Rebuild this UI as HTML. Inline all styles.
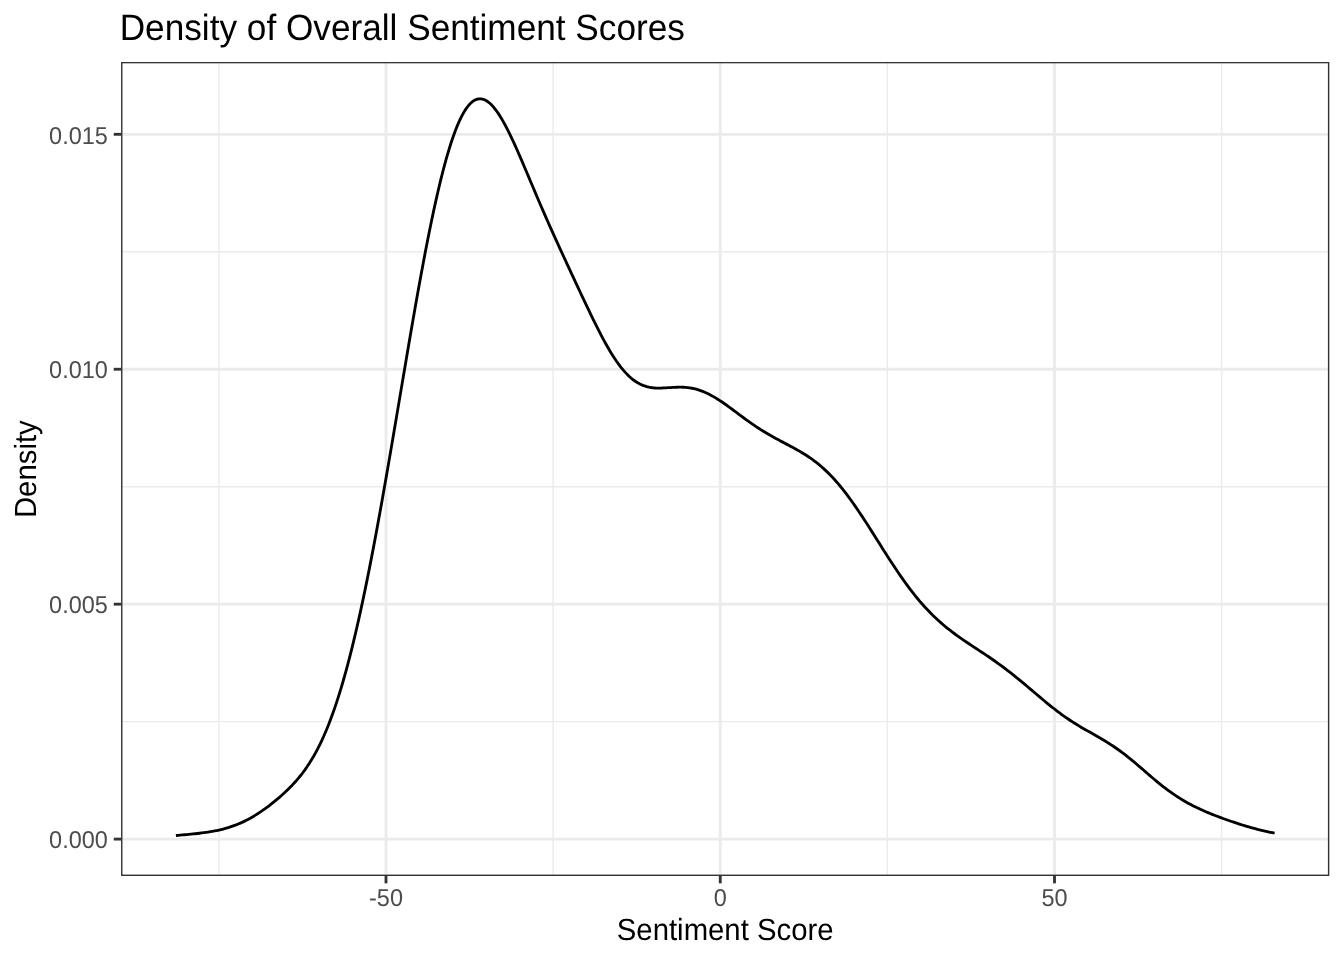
<!DOCTYPE html>
<html><head><meta charset="utf-8"><title>Density of Overall Sentiment Scores</title>
<style>
html,body{margin:0;padding:0;background:#fff;}
body{width:1344px;height:960px;overflow:hidden;}
svg{display:block;will-change:transform;}
text{font-family:"Liberation Sans",sans-serif;text-rendering:geometricPrecision;}
.ax{font-size:23.47px;fill:#4D4D4D;}
.ti{font-size:29.33px;fill:#000;}
.tt{font-size:35.2px;fill:#000;}
</style></head><body>
<svg width="1344" height="960" viewBox="0 0 1344 960">
<rect x="0" y="0" width="1344" height="960" fill="#FFFFFF"/>
<defs><clipPath id="pc"><rect x="121.05" y="61.9" width="1208.28" height="814.10"/></clipPath></defs>
<g clip-path="url(#pc)">
<rect x="121.05" y="61.9" width="1208.28" height="814.10" fill="#FFFFFF"/>
<line x1="218.88" y1="61.9" x2="218.88" y2="876.0" stroke="#EBEBEB" stroke-width="1.42"/>
<line x1="553.12" y1="61.9" x2="553.12" y2="876.0" stroke="#EBEBEB" stroke-width="1.42"/>
<line x1="887.38" y1="61.9" x2="887.38" y2="876.0" stroke="#EBEBEB" stroke-width="1.42"/>
<line x1="1221.62" y1="61.9" x2="1221.62" y2="876.0" stroke="#EBEBEB" stroke-width="1.42"/>
<line x1="121.05" y1="721.63" x2="1329.33" y2="721.63" stroke="#EBEBEB" stroke-width="1.42"/>
<line x1="121.05" y1="486.71" x2="1329.33" y2="486.71" stroke="#EBEBEB" stroke-width="1.42"/>
<line x1="121.05" y1="251.77" x2="1329.33" y2="251.77" stroke="#EBEBEB" stroke-width="1.42"/>
<line x1="386.00" y1="61.9" x2="386.00" y2="876.0" stroke="#EBEBEB" stroke-width="2.84"/>
<line x1="720.25" y1="61.9" x2="720.25" y2="876.0" stroke="#EBEBEB" stroke-width="2.84"/>
<line x1="1054.50" y1="61.9" x2="1054.50" y2="876.0" stroke="#EBEBEB" stroke-width="2.84"/>
<line x1="121.05" y1="839.10" x2="1329.33" y2="839.10" stroke="#EBEBEB" stroke-width="2.84"/>
<line x1="121.05" y1="604.17" x2="1329.33" y2="604.17" stroke="#EBEBEB" stroke-width="2.84"/>
<line x1="121.05" y1="369.24" x2="1329.33" y2="369.24" stroke="#EBEBEB" stroke-width="2.84"/>
<line x1="121.05" y1="134.31" x2="1329.33" y2="134.31" stroke="#EBEBEB" stroke-width="2.84"/>
<path d="M175.90,835.50 L178.05,835.32 L180.20,835.15 L182.35,834.96 L184.50,834.77 L186.65,834.58 L188.80,834.38 L190.95,834.17 L193.10,833.95 L195.25,833.72 L197.40,833.48 L199.55,833.23 L201.70,832.96 L203.85,832.68 L206.00,832.38 L208.15,832.06 L210.30,831.71 L212.45,831.34 L214.60,830.95 L216.75,830.52 L218.90,830.06 L221.05,829.57 L223.20,829.03 L225.35,828.46 L227.50,827.84 L229.65,827.18 L231.80,826.47 L233.95,825.71 L236.10,824.90 L238.25,824.03 L240.40,823.11 L242.55,822.14 L244.70,821.11 L246.85,820.02 L249.00,818.88 L251.15,817.68 L253.30,816.43 L255.45,815.13 L257.60,813.77 L259.75,812.37 L261.90,810.91 L264.05,809.41 L266.20,807.87 L268.35,806.27 L270.50,804.63 L272.65,802.95 L274.80,801.22 L276.95,799.45 L279.10,797.62 L281.25,795.74 L283.40,793.81 L285.55,791.81 L287.71,789.75 L289.86,787.61 L292.01,785.40 L294.16,783.09 L296.31,780.68 L298.46,778.16 L300.61,775.52 L302.76,772.75 L304.91,769.83 L307.06,766.76 L309.21,763.52 L311.36,760.09 L313.51,756.47 L315.66,752.64 L317.81,748.60 L319.96,744.32 L322.11,739.80 L324.26,735.03 L326.41,730.00 L328.56,724.69 L330.71,719.11 L332.86,713.25 L335.01,707.10 L337.16,700.65 L339.31,693.90 L341.46,686.85 L343.61,679.49 L345.76,671.84 L347.91,663.87 L350.06,655.61 L352.21,647.05 L354.36,638.19 L356.51,629.04 L358.66,619.60 L360.81,609.88 L362.96,599.89 L365.11,589.63 L367.26,579.12 L369.41,568.35 L371.56,557.36 L373.71,546.13 L375.86,534.69 L378.01,523.06 L380.16,511.23 L382.31,499.24 L384.46,487.09 L386.61,474.80 L388.76,462.38 L390.91,449.87 L393.06,437.26 L395.21,424.59 L397.36,411.87 L399.51,399.12 L401.66,386.37 L403.81,373.64 L405.96,360.94 L408.11,348.30 L410.26,335.74 L412.41,323.29 L414.56,310.97 L416.71,298.80 L418.86,286.80 L421.01,275.00 L423.16,263.43 L425.31,252.10 L427.46,241.03 L429.61,230.26 L431.76,219.79 L433.91,209.66 L436.06,199.88 L438.21,190.47 L440.36,181.44 L442.51,172.83 L444.66,164.64 L446.81,156.89 L448.96,149.59 L451.11,142.75 L453.26,136.39 L455.41,130.52 L457.56,125.13 L459.71,120.25 L461.86,115.87 L464.01,111.99 L466.16,108.62 L468.31,105.75 L470.46,103.38 L472.61,101.52 L474.76,100.14 L476.91,99.24 L479.06,98.81 L481.21,98.84 L483.36,99.31 L485.51,100.22 L487.66,101.53 L489.81,103.24 L491.96,105.33 L494.11,107.77 L496.26,110.54 L498.41,113.62 L500.56,116.99 L502.71,120.62 L504.86,124.50 L507.02,128.59 L509.17,132.87 L511.32,137.33 L513.47,141.94 L515.62,146.67 L517.77,151.50 L519.92,156.43 L522.07,161.41 L524.22,166.45 L526.37,171.53 L528.52,176.62 L530.67,181.71 L532.82,186.81 L534.97,191.89 L537.12,196.94 L539.27,201.97 L541.42,206.97 L543.57,211.93 L545.72,216.85 L547.87,221.73 L550.02,226.58 L552.17,231.39 L554.32,236.17 L556.47,240.91 L558.62,245.63 L560.77,250.33 L562.92,255.01 L565.07,259.67 L567.22,264.31 L569.37,268.95 L571.52,273.58 L573.67,278.20 L575.82,282.81 L577.97,287.42 L580.12,292.01 L582.27,296.59 L584.42,301.15 L586.57,305.69 L588.72,310.20 L590.87,314.66 L593.02,319.08 L595.17,323.44 L597.32,327.73 L599.47,331.95 L601.62,336.07 L603.77,340.09 L605.92,344.00 L608.07,347.79 L610.22,351.43 L612.37,354.93 L614.52,358.28 L616.67,361.46 L618.82,364.46 L620.97,367.29 L623.12,369.93 L625.27,372.38 L627.42,374.64 L629.57,376.70 L631.72,378.58 L633.87,380.26 L636.02,381.75 L638.17,383.06 L640.32,384.19 L642.47,385.16 L644.62,385.96 L646.77,386.62 L648.92,387.14 L651.07,387.53 L653.22,387.80 L655.37,387.98 L657.52,388.07 L659.67,388.08 L661.82,388.04 L663.97,387.95 L666.12,387.83 L668.27,387.69 L670.42,387.55 L672.57,387.42 L674.72,387.30 L676.87,387.22 L679.02,387.18 L681.17,387.19 L683.32,387.25 L685.47,387.39 L687.62,387.59 L689.77,387.87 L691.92,388.24 L694.07,388.69 L696.22,389.23 L698.37,389.86 L700.52,390.57 L702.67,391.37 L704.82,392.26 L706.97,393.23 L709.12,394.29 L711.27,395.41 L713.42,396.62 L715.57,397.88 L717.72,399.21 L719.87,400.60 L722.02,402.04 L724.17,403.51 L726.33,405.03 L728.48,406.58 L730.63,408.15 L732.78,409.74 L734.93,411.34 L737.08,412.94 L739.23,414.55 L741.38,416.15 L743.53,417.74 L745.68,419.31 L747.83,420.87 L749.98,422.40 L752.13,423.90 L754.28,425.38 L756.43,426.83 L758.58,428.24 L760.73,429.63 L762.88,430.98 L765.03,432.29 L767.18,433.58 L769.33,434.83 L771.48,436.06 L773.63,437.26 L775.78,438.44 L777.93,439.60 L780.08,440.75 L782.23,441.88 L784.38,443.01 L786.53,444.13 L788.68,445.26 L790.83,446.40 L792.98,447.55 L795.13,448.72 L797.28,449.91 L799.43,451.14 L801.58,452.40 L803.73,453.71 L805.88,455.06 L808.03,456.46 L810.18,457.93 L812.33,459.45 L814.48,461.04 L816.63,462.70 L818.78,464.43 L820.93,466.24 L823.08,468.13 L825.23,470.10 L827.38,472.15 L829.53,474.29 L831.68,476.51 L833.83,478.82 L835.98,481.21 L838.13,483.69 L840.28,486.26 L842.43,488.90 L844.58,491.63 L846.73,494.43 L848.88,497.31 L851.03,500.26 L853.18,503.27 L855.33,506.35 L857.48,509.48 L859.63,512.67 L861.78,515.91 L863.93,519.19 L866.08,522.50 L868.23,525.85 L870.38,529.23 L872.53,532.62 L874.68,536.02 L876.83,539.44 L878.98,542.85 L881.13,546.26 L883.28,549.66 L885.43,553.05 L887.58,556.41 L889.73,559.75 L891.88,563.05 L894.03,566.32 L896.18,569.54 L898.33,572.72 L900.48,575.85 L902.63,578.93 L904.78,581.95 L906.93,584.91 L909.08,587.80 L911.23,590.64 L913.38,593.40 L915.53,596.10 L917.68,598.73 L919.83,601.29 L921.98,603.78 L924.13,606.20 L926.28,608.55 L928.43,610.83 L930.58,613.04 L932.73,615.19 L934.88,617.27 L937.03,619.29 L939.18,621.25 L941.33,623.15 L943.48,624.99 L945.64,626.79 L947.79,628.53 L949.94,630.22 L952.09,631.88 L954.24,633.49 L956.39,635.06 L958.54,636.61 L960.69,638.12 L962.84,639.61 L964.99,641.08 L967.14,642.53 L969.29,643.97 L971.44,645.39 L973.59,646.81 L975.74,648.23 L977.89,649.64 L980.04,651.06 L982.19,652.48 L984.34,653.91 L986.49,655.35 L988.64,656.80 L990.79,658.27 L992.94,659.76 L995.09,661.27 L997.24,662.79 L999.39,664.34 L1001.54,665.91 L1003.69,667.51 L1005.84,669.12 L1007.99,670.77 L1010.14,672.43 L1012.29,674.12 L1014.44,675.83 L1016.59,677.56 L1018.74,679.31 L1020.89,681.08 L1023.04,682.87 L1025.19,684.67 L1027.34,686.48 L1029.49,688.30 L1031.64,690.13 L1033.79,691.96 L1035.94,693.79 L1038.09,695.61 L1040.24,697.43 L1042.39,699.24 L1044.54,701.03 L1046.69,702.81 L1048.84,704.56 L1050.99,706.30 L1053.14,708.00 L1055.29,709.68 L1057.44,711.33 L1059.59,712.94 L1061.74,714.52 L1063.89,716.06 L1066.04,717.57 L1068.19,719.04 L1070.34,720.48 L1072.49,721.88 L1074.64,723.24 L1076.79,724.58 L1078.94,725.88 L1081.09,727.16 L1083.24,728.42 L1085.39,729.66 L1087.54,730.89 L1089.69,732.10 L1091.84,733.32 L1093.99,734.53 L1096.14,735.75 L1098.29,736.98 L1100.44,738.22 L1102.59,739.48 L1104.74,740.77 L1106.89,742.09 L1109.04,743.44 L1111.19,744.83 L1113.34,746.25 L1115.49,747.72 L1117.64,749.22 L1119.79,750.77 L1121.94,752.36 L1124.09,753.99 L1126.24,755.66 L1128.39,757.36 L1130.54,759.11 L1132.69,760.88 L1134.84,762.68 L1136.99,764.50 L1139.14,766.34 L1141.29,768.19 L1143.44,770.05 L1145.59,771.91 L1147.74,773.77 L1149.89,775.63 L1152.04,777.46 L1154.19,779.28 L1156.34,781.08 L1158.49,782.85 L1160.64,784.59 L1162.79,786.29 L1164.95,787.96 L1167.10,789.59 L1169.25,791.17 L1171.40,792.71 L1173.55,794.20 L1175.70,795.65 L1177.85,797.06 L1180.00,798.42 L1182.15,799.73 L1184.30,801.00 L1186.45,802.23 L1188.60,803.42 L1190.75,804.57 L1192.90,805.68 L1195.05,806.76 L1197.20,807.80 L1199.35,808.81 L1201.50,809.80 L1203.65,810.76 L1205.80,811.69 L1207.95,812.60 L1210.10,813.49 L1212.25,814.36 L1214.40,815.21 L1216.55,816.05 L1218.70,816.87 L1220.85,817.67 L1223.00,818.47 L1225.15,819.24 L1227.30,820.01 L1229.45,820.76 L1231.60,821.50 L1233.75,822.22 L1235.90,822.94 L1238.05,823.64 L1240.20,824.32 L1242.35,824.99 L1244.50,825.65 L1246.65,826.30 L1248.80,826.92 L1250.95,827.54 L1253.10,828.13 L1255.25,828.71 L1257.40,829.27 L1259.55,829.82 L1261.70,830.34 L1263.85,830.85 L1266.00,831.34 L1268.15,831.81 L1270.30,832.27 L1272.45,832.70 L1274.60,833.11" fill="none" stroke="#000000" stroke-width="2.84" stroke-linejoin="round" stroke-linecap="butt"/>
<rect x="121.05" y="61.9" width="1208.28" height="814.10" fill="none" stroke="#333333" stroke-width="2.84"/>
</g>
<line x1="386.00" y1="876.0" x2="386.00" y2="883.33" stroke="#333333" stroke-width="2.84"/>
<line x1="720.25" y1="876.0" x2="720.25" y2="883.33" stroke="#333333" stroke-width="2.84"/>
<line x1="1054.50" y1="876.0" x2="1054.50" y2="883.33" stroke="#333333" stroke-width="2.84"/>
<line x1="113.72" y1="839.10" x2="121.05" y2="839.10" stroke="#333333" stroke-width="2.84"/>
<line x1="113.72" y1="604.17" x2="121.05" y2="604.17" stroke="#333333" stroke-width="2.84"/>
<line x1="113.72" y1="369.24" x2="121.05" y2="369.24" stroke="#333333" stroke-width="2.84"/>
<line x1="113.72" y1="134.31" x2="121.05" y2="134.31" stroke="#333333" stroke-width="2.84"/>
<text transform="translate(107.85,848.00) scale(1,1.042)" text-anchor="end" class="ax">0.000</text>
<text transform="translate(107.85,613.00) scale(1,1.042)" text-anchor="end" class="ax">0.005</text>
<text transform="translate(107.85,378.00) scale(1,1.042)" text-anchor="end" class="ax">0.010</text>
<text transform="translate(107.85,144.00) scale(1,1.042)" text-anchor="end" class="ax">0.015</text>
<text transform="translate(386.00,906.00) scale(1,1.042)" text-anchor="middle" class="ax">-50</text>
<text transform="translate(720.25,906.00) scale(1,1.042)" text-anchor="middle" class="ax">0</text>
<text transform="translate(1054.50,906.00) scale(1,1.042)" text-anchor="middle" class="ax">50</text>
<text transform="translate(725.19,940.00) scale(1,1.042)" text-anchor="middle" class="ti">Sentiment Score</text>
<text transform="translate(35.85,469.20) rotate(-90) scale(1,1.042)" text-anchor="middle" class="ti">Density</text>
<text transform="translate(119.70,39.90) scale(1,1.042)" class="tt">Density of Overall Sentiment Scores</text>
</svg>
</body></html>
